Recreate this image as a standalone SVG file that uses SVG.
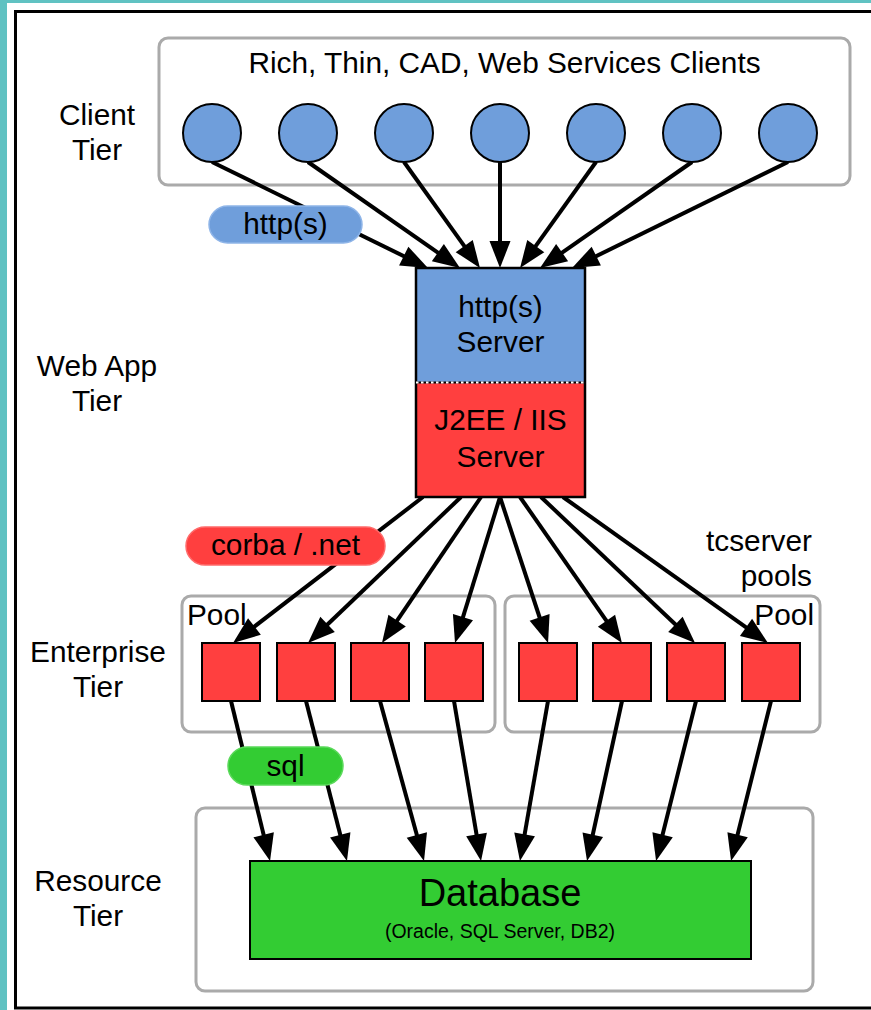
<svg xmlns="http://www.w3.org/2000/svg" width="871" height="1010" viewBox="0 0 871 1010">
<style>
text{font-family:"Liberation Sans",Arial,Helvetica,sans-serif;fill:#000;}
.t29{font-size:29.8px;}
.mid{text-anchor:middle;}
.end{text-anchor:end;}
.tier{fill:#fff;stroke:#aaaaaa;stroke-width:3;}
.client{fill:#6f9edb;stroke:#000;stroke-width:2;}
.ent{fill:#ff3f3f;stroke:#000;stroke-width:2;}
.con{stroke:#000;stroke-width:4;fill:none;marker-end:url(#ah);}
</style>
<defs>
<marker id="ah" markerUnits="userSpaceOnUse" markerWidth="27" markerHeight="21" refX="7" refY="10.5" orient="auto" overflow="visible">
<path d="M0,0 L27,10.5 L0,21 Z" fill="#000"/>
</marker>
</defs>
<rect x="0" y="0" width="871" height="1010" fill="#60c2c2"/>
<rect x="7" y="3" width="864" height="1007" fill="#fff"/>
<rect x="15.5" y="11.5" width="870" height="996.5" fill="none" stroke="#000" stroke-width="3"/>

<g id="client-tier">
<rect class="tier" x="159" y="38" width="691" height="147" rx="9"/>
<text class="t29 mid" x="504.5" y="73">Rich, Thin, CAD, Web Services Clients</text>
</g>
<g id="enterprise-pool-1"><rect class="tier" x="182" y="596" width="313" height="136" rx="9"/></g>
<g id="enterprise-pool-2"><rect class="tier" x="505" y="596" width="315" height="136" rx="9"/></g>
<g id="resource-tier"><rect class="tier" x="196" y="808" width="617" height="183" rx="9"/></g>

<g id="tier-labels">
<text class="t29 mid" x="97" y="125">Client</text>
<text class="t29 mid" x="97" y="160">Tier</text>
<text class="t29 mid" x="97" y="376">Web App</text>
<text class="t29 mid" x="97" y="411">Tier</text>
<text class="t29 mid" x="98" y="662">Enterprise</text>
<text class="t29 mid" x="98" y="697">Tier</text>
<text class="t29 mid" x="98" y="891">Resource</text>
<text class="t29 mid" x="98" y="926">Tier</text>
</g>

<g id="connectors">
<line class="con" x1="212" y1="162" x2="410" y2="259.2"/>
<line class="con" x1="308" y1="162" x2="443.6" y2="256.6"/>
<line class="con" x1="404" y1="162" x2="468.3" y2="251.7"/>
<line class="con" x1="500" y1="162" x2="500" y2="248"/>
<line class="con" x1="596" y1="162" x2="531.7" y2="251.7"/>
<line class="con" x1="692" y1="162" x2="556.4" y2="256.6"/>
<line class="con" x1="788" y1="162" x2="590" y2="259.2"/>

<line class="con" x1="423" y1="497" x2="248.9" y2="630.8"/>
<line class="con" x1="461" y1="497" x2="322.5" y2="629.2"/>
<line class="con" x1="481" y1="497" x2="393.2" y2="626.4"/>
<line class="con" x1="500" y1="497" x2="460.9" y2="623.9"/>
<line class="con" x1="500" y1="497" x2="541.8" y2="624"/>
<line class="con" x1="520" y1="497" x2="610.5" y2="626.6"/>
<line class="con" x1="541" y1="497" x2="680.5" y2="629.2"/>
<line class="con" x1="563" y1="497" x2="751.7" y2="631.4"/>

<line class="con" x1="231" y1="701" x2="265.3" y2="841.6"/>
<line class="con" x1="306" y1="701" x2="342" y2="841.6"/>
<line class="con" x1="380" y1="701" x2="418.7" y2="841.7"/>
<line class="con" x1="454" y1="701" x2="477.7" y2="841.3"/>
<line class="con" x1="548" y1="701" x2="523.4" y2="841.3"/>
<line class="con" x1="622" y1="701" x2="591.3" y2="841.5"/>
<line class="con" x1="696" y1="701" x2="660.9" y2="841.6"/>
<line class="con" x1="771" y1="701" x2="735.9" y2="841.6"/>
</g>

<g id="clients">
<circle class="client" cx="212" cy="133" r="29"/>
<circle class="client" cx="308" cy="133" r="29"/>
<circle class="client" cx="404" cy="133" r="29"/>
<circle class="client" cx="500" cy="133" r="29"/>
<circle class="client" cx="596" cy="133" r="29"/>
<circle class="client" cx="692" cy="133" r="29"/>
<circle class="client" cx="788" cy="133" r="29"/>
</g>

<g id="http-server">
<rect x="416" y="268" width="169" height="114.5" fill="#6f9edb"/>
<text class="t29 mid" x="500.5" y="317">http(s)</text>
<text class="t29 mid" x="500.5" y="352">Server</text>
</g>
<g id="j2ee-server">
<rect x="416" y="382.5" width="169" height="114.5" fill="#ff3f3f"/>
<text class="t29 mid" x="500.5" y="430">J2EE / IIS</text>
<text class="t29 mid" x="500.5" y="467">Server</text>
</g>
<g id="server-frame">
<rect x="416" y="268" width="169" height="229" fill="none" stroke="#000" stroke-width="2.5"/>
<line x1="416" y1="382.5" x2="585" y2="382.5" stroke="#000" stroke-width="2"/>
<line x1="416" y1="382.5" x2="585" y2="382.5" stroke="#fff" stroke-width="2" stroke-dasharray="2.5,2.5"/>
</g>

<g id="pool-squares">
<rect class="ent" x="202" y="643" width="58" height="58"/>
<rect class="ent" x="277" y="643" width="58" height="58"/>
<rect class="ent" x="351" y="643" width="58" height="58"/>
<rect class="ent" x="425" y="643" width="58" height="58"/>
<rect class="ent" x="519" y="643" width="58" height="58"/>
<rect class="ent" x="593" y="643" width="58" height="58"/>
<rect class="ent" x="667" y="643" width="58" height="58"/>
<rect class="ent" x="742" y="643" width="58" height="58"/>
</g>

<g id="pool-labels">
<text class="t29" x="187" y="625">Pool</text>
<text class="t29 end" x="814" y="625">Pool</text>
<text class="t29 end" x="812" y="551">tcserver</text>
<text class="t29 end" x="812" y="586">pools</text>
</g>

<g id="database">
<rect x="250" y="861" width="501" height="98" fill="#33cc33" stroke="#000" stroke-width="2"/>
<text class="mid" x="500" y="906" font-size="38">Database</text>
<text class="mid" x="500" y="938" font-size="19.5">(Oracle, SQL Server, DB2)</text>
</g>

<g id="pill-http">
<rect x="209" y="206" width="153" height="37" rx="18.5" fill="#6f9edb" stroke="#8fb5e8" stroke-width="1.5"/>
<text class="t29 mid" x="285.5" y="234">http(s)</text>
</g>
<g id="pill-corba">
<rect x="186" y="527" width="199" height="38" rx="19" fill="#ff3f3f" stroke="#ff6a6a" stroke-width="1.5"/>
<text class="t29 mid" x="285.5" y="555">corba / .net</text>
</g>
<g id="pill-sql">
<rect x="228" y="747" width="115" height="38" rx="19" fill="#33cc33" stroke="#5ad95a" stroke-width="1.5"/>
<text class="t29 mid" x="285.5" y="776">sql</text>
</g>
</svg>
